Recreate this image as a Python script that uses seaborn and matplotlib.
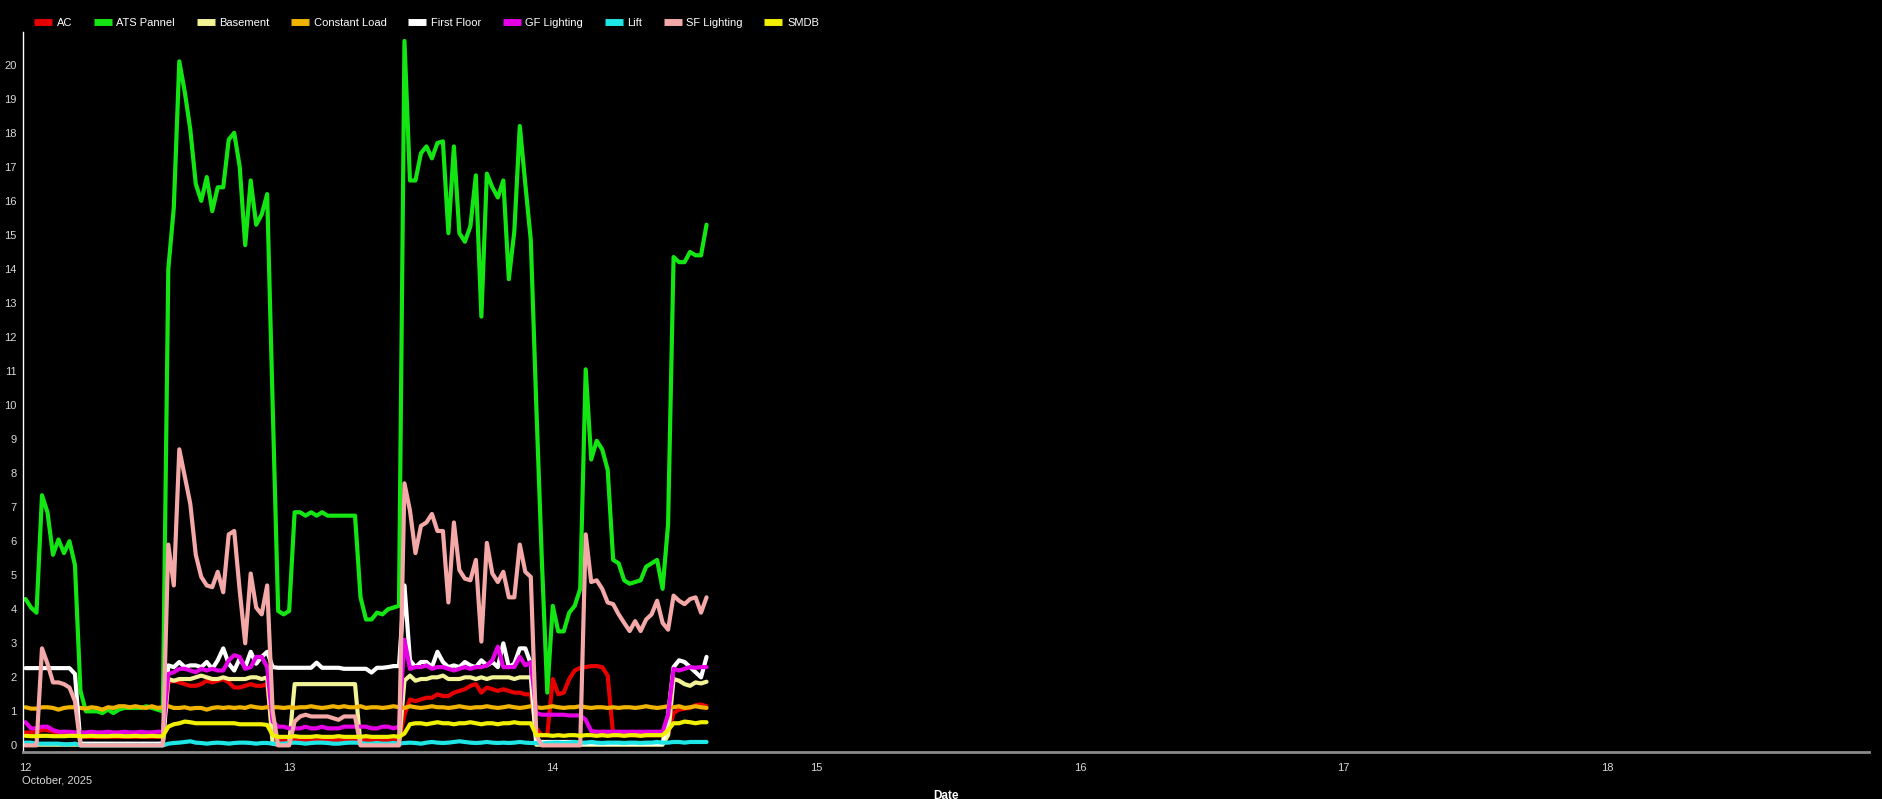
import pandas as pd
import matplotlib.pyplot as plt
import matplotlib.dates as mdates
from matplotlib.ticker import MultipleLocator
import seaborn as sns

## Data: half-hourly readings, Oct 12 00:00 -> Oct 14 14:00
times = pd.date_range("2025-10-12 00:00", periods=125, freq="30min")

ac = [0.38, 0.38, 0.4, 0.45, 0.45, 0.4, 0.38, 0.38, 0.38, 0.38,
      0.25, 0.25, 0.25, 0.25, 0.25, 0.25, 0.25, 0.25, 0.25, 0.25, 0.25, 0.25, 0.25, 0.25, 0.25, 0.25,
      1.85, 1.9, 1.85, 1.8, 1.75, 1.75, 1.8, 1.9, 1.85, 1.9, 1.95, 1.85, 1.7, 1.7, 1.75, 1.8, 1.75, 1.75, 1.8, 0.3,
      0.15, 0.15, 0.15, 0.15, 0.15, 0.15, 0.15, 0.15, 0.15, 0.15, 0.15, 0.15, 0.15, 0.15, 0.15, 0.15, 0.15, 0.15,
      0.15, 0.15, 0.15, 0.15, 0.15,
      0.9, 1.35, 1.3, 1.35, 1.4, 1.4, 1.5, 1.45, 1.45, 1.55, 1.6, 1.65, 1.75, 1.8, 1.55, 1.7, 1.65, 1.6, 1.65, 1.6,
      1.55, 1.55, 1.5, 1.5,
      0.5, 0.3, 0.3, 1.95, 1.5, 1.55, 1.95, 2.2, 2.28, 2.3, 2.33, 2.33, 2.3, 2.05, 0.3,
      0.3, 0.3, 0.3, 0.3, 0.3, 0.3, 0.3, 0.3, 0.3,
      0.35, 0.95, 1.05, 1.08, 1.1, 1.18, 1.2, 1.15]

ats = [4.3, 4.05, 3.9, 7.35, 6.85, 5.6, 6.05, 5.65, 6.0, 5.3,
       1.6, 1.0, 1.0, 1.0, 0.95, 1.05, 0.95, 1.05, 1.1, 1.1, 1.1, 1.1, 1.15, 1.1, 1.05, 1.0,
       14.0, 15.8, 20.1, 19.2, 18.1, 16.5, 16.0, 16.7, 15.7, 16.4, 16.4, 17.8, 18.0, 17.0, 14.7, 16.6, 15.3, 15.6,
       16.2, 10.0,
       3.95, 3.85, 3.95, 6.85, 6.85, 6.75, 6.85, 6.75, 6.85, 6.75, 6.75, 6.75, 6.75, 6.75, 6.75, 4.35, 3.7, 3.7,
       3.9, 3.85, 4.0, 4.05, 4.1,
       20.7, 16.6, 16.6, 17.4, 17.6, 17.25, 17.7, 17.75, 15.05, 17.6, 15.05, 14.8, 15.25, 16.75, 12.6, 16.8, 16.4,
       16.1, 16.6, 13.7, 15.1, 18.2, 16.5, 14.85,
       10.0, 5.5, 1.55, 4.1, 3.35, 3.35, 3.9, 4.1, 4.6, 11.05, 8.4, 8.95, 8.7, 8.1, 5.45,
       5.35, 4.85, 4.75, 4.8, 4.85, 5.25, 5.35, 5.45, 4.6,
       6.5, 14.35, 14.2, 14.2, 14.5, 14.4, 14.4, 15.3]

basement = [0.02, 0.02, 0.02, 0.02, 0.02, 0.02, 0.02, 0.02, 0.02, 0.02,
            0.02, 0.02, 0.02, 0.02, 0.02, 0.02, 0.02, 0.02, 0.02, 0.02, 0.02, 0.02, 0.02, 0.02, 0.02, 0.02,
            1.95, 1.9, 1.95, 1.95, 1.95, 2.0, 2.05, 2.0, 1.95, 1.95, 2.0, 1.95, 1.95, 1.95, 1.95, 2.0, 2.0, 1.95,
            2.0, 0.05,
            0.02, 0.02, 0.02, 1.8, 1.8, 1.8, 1.8, 1.8, 1.8, 1.8, 1.8, 1.8, 1.8, 1.8, 1.8, 0.02, 0.02, 0.02,
            0.02, 0.02, 0.02, 0.02, 0.02,
            1.9, 2.05, 1.9, 1.95, 1.95, 2.0, 2.0, 2.05, 1.95, 1.95, 1.95, 2.0, 2.0, 1.95, 2.0, 1.95, 2.0, 2.0,
            2.0, 2.0, 1.95, 2.0, 2.0, 2.0,
            0.02, 0.02, 0.02, 0.02, 0.02, 0.02, 0.02, 0.02, 0.02, 0.02, 0.02, 0.02, 0.02, 0.02, 0.02,
            0.02, 0.02, 0.02, 0.02, 0.02, 0.02, 0.02, 0.02, 0.02,
            0.3, 1.95, 1.9, 1.8, 1.75, 1.85, 1.82, 1.87]

constant_load = [1.12, 1.08, 1.08, 1.12, 1.12, 1.1, 1.05, 1.1, 1.12, 1.12,
                 1.1, 1.08, 1.12, 1.1, 1.05, 1.12, 1.1, 1.15, 1.15, 1.12, 1.15, 1.12, 1.1, 1.15, 1.1, 1.12,
                 1.15, 1.1, 1.1, 1.12, 1.08, 1.1, 1.1, 1.05, 1.1, 1.12, 1.1, 1.12, 1.1, 1.12, 1.1, 1.15, 1.12,
                 1.1, 1.12, 1.12,
                 1.12, 1.1, 1.12, 1.1, 1.12, 1.12, 1.15, 1.12, 1.1, 1.12, 1.15, 1.12, 1.15, 1.12, 1.12, 1.15,
                 1.1, 1.12, 1.12, 1.1, 1.12, 1.15, 1.12,
                 1.1, 1.15, 1.12, 1.1, 1.12, 1.15, 1.12, 1.12, 1.1, 1.12, 1.15, 1.12, 1.1, 1.12, 1.12, 1.15,
                 1.12, 1.1, 1.12, 1.15, 1.12, 1.1, 1.12, 1.15,
                 1.12, 1.1, 1.12, 1.15, 1.12, 1.1, 1.12, 1.12, 1.15, 1.12, 1.1, 1.12, 1.12, 1.1, 1.12,
                 1.1, 1.12, 1.12, 1.1, 1.12, 1.15, 1.12, 1.1, 1.12,
                 1.15, 1.12, 1.15, 1.1, 1.12, 1.15, 1.12, 1.1]

first_floor = [2.27, 2.27, 2.27, 2.27, 2.27, 2.27, 2.27, 2.27, 2.27, 2.1,
               0.05, 0.05, 0.05, 0.05, 0.05, 0.05, 0.05, 0.05, 0.05, 0.05, 0.05, 0.05, 0.05, 0.05, 0.05, 0.05,
               2.35, 2.3, 2.45, 2.3, 2.35, 2.35, 2.3, 2.45, 2.25, 2.5, 2.85, 2.4, 2.2, 2.55, 2.3, 2.75, 2.4,
               2.6, 2.75, 2.3,
               2.28, 2.28, 2.28, 2.28, 2.28, 2.28, 2.28, 2.43, 2.28, 2.28, 2.28, 2.28, 2.25, 2.25, 2.25, 2.25,
               2.25, 2.14, 2.28, 2.28, 2.3, 2.33, 2.33,
               4.7, 2.5, 2.3, 2.45, 2.45, 2.3, 2.75, 2.45, 2.3, 2.35, 2.3, 2.45, 2.35, 2.3, 2.5, 2.35, 2.45,
               2.3, 3.0, 2.3, 2.4, 2.85, 2.85, 2.4,
               0.1, 0.1, 0.1, 0.1, 0.1, 0.1, 0.1, 0.1, 0.05, 0.05, 0.05, 0.05, 0.05, 0.05, 0.05,
               0.05, 0.05, 0.05, 0.05, 0.05, 0.05, 0.05, 0.05, 0.05,
               0.9, 2.3, 2.5, 2.45, 2.3, 2.15, 2.0, 2.6]

gf_lighting = [0.68, 0.5, 0.5, 0.55, 0.55, 0.45, 0.4, 0.4, 0.4, 0.38,
               0.38, 0.38, 0.4, 0.38, 0.38, 0.4, 0.38, 0.38, 0.4, 0.38, 0.38, 0.4, 0.38, 0.38, 0.4, 0.4,
               2.1, 2.15, 2.25, 2.25, 2.2, 2.15, 2.25, 2.2, 2.25, 2.2, 2.2, 2.5, 2.65, 2.6, 2.25, 2.3, 2.6,
               2.6, 2.3, 0.7,
               0.55, 0.55, 0.5, 0.5, 0.5, 0.55, 0.5, 0.5, 0.55, 0.5, 0.5, 0.5, 0.55, 0.55, 0.55, 0.55, 0.55,
               0.5, 0.5, 0.55, 0.55, 0.5, 0.55,
               3.1, 2.25, 2.3, 2.3, 2.35, 2.25, 2.3, 2.3, 2.25, 2.2, 2.25, 2.3, 2.25, 2.3, 2.3, 2.35, 2.5,
               2.9, 2.3, 2.3, 2.3, 2.6, 2.35, 2.45,
               0.95, 0.9, 0.9, 0.9, 0.9, 0.9, 0.88, 0.88, 0.88, 0.75, 0.42, 0.4, 0.4, 0.4, 0.4,
               0.4, 0.4, 0.4, 0.4, 0.4, 0.4, 0.4, 0.4, 0.4,
               0.9, 2.25, 2.2, 2.25, 2.3, 2.28, 2.3, 2.3]

lift = [0.08, 0.08, 0.05, 0.05, 0.05, 0.05, 0.05, 0.03, 0.03, 0.05,
        0.0, 0.0, 0.0, 0.0, 0.0, 0.0, 0.0, 0.0, 0.0, 0.0, 0.0, 0.0, 0.0, 0.0, 0.0, 0.0,
        0.05, 0.07, 0.08, 0.1, 0.12, 0.08, 0.07, 0.05, 0.07, 0.08, 0.07, 0.05, 0.07, 0.08, 0.08, 0.07,
        0.05, 0.07, 0.07, 0.05,
        0.05, 0.05, 0.07, 0.08, 0.07, 0.05, 0.07, 0.08, 0.08, 0.07, 0.05, 0.05, 0.07, 0.08, 0.08, 0.07,
        0.05, 0.05, 0.07, 0.05, 0.05, 0.07, 0.05,
        0.07, 0.08, 0.07, 0.05, 0.08, 0.1, 0.08, 0.07, 0.08, 0.1, 0.12, 0.1, 0.08, 0.07, 0.08, 0.1,
        0.08, 0.07, 0.08, 0.07, 0.08, 0.1, 0.08, 0.07,
        0.07, 0.05, 0.07, 0.08, 0.08, 0.07, 0.08, 0.1, 0.08, 0.08, 0.1, 0.08, 0.07, 0.08, 0.08,
        0.08, 0.07, 0.08, 0.08, 0.07, 0.08, 0.08, 0.1, 0.08,
        0.08, 0.1, 0.1, 0.08, 0.1, 0.1, 0.1, 0.1]

sf_lighting = [0.0, 0.0, 0.0, 2.85, 2.4, 1.85, 1.85, 1.8, 1.7, 1.3,
               0.0, 0.0, 0.0, 0.0, 0.0, 0.0, 0.0, 0.0, 0.0, 0.0, 0.0, 0.0, 0.0, 0.0, 0.0, 0.0,
               5.9, 4.7, 8.7, 7.9, 7.1, 5.6, 4.95, 4.7, 4.65, 5.1, 4.5, 6.2, 6.3, 4.55, 3.0, 5.05, 4.05,
               3.85, 4.7, 1.0,
               0.0, 0.0, 0.0, 0.7, 0.85, 0.9, 0.85, 0.85, 0.85, 0.85, 0.8, 0.75, 0.85, 0.85, 0.85,
               0.0, 0.0, 0.0, 0.0, 0.0, 0.0, 0.0, 0.0,
               7.7, 6.9, 5.65, 6.45, 6.55, 6.8, 6.3, 6.3, 4.2, 6.55, 5.15, 4.9, 4.85, 5.45, 3.05, 5.95,
               5.05, 4.8, 5.1, 4.35, 4.35, 5.9, 5.1, 4.95,
               0.3, 0.0, 0.0, 0.0, 0.0, 0.0, 0.0, 0.0, 0.0, 6.2, 4.8, 4.85, 4.6, 4.2, 4.15,
               3.85, 3.6, 3.36, 3.65, 3.36, 3.7, 3.85, 4.25, 3.6,
               3.4, 4.4, 4.25, 4.15, 4.3, 4.35, 3.9, 4.35]

smdb = [0.28, 0.27, 0.27, 0.28, 0.28, 0.27, 0.27, 0.27, 0.28, 0.28,
        0.27, 0.27, 0.28, 0.27, 0.27, 0.27, 0.28, 0.28, 0.27, 0.27, 0.28, 0.27, 0.27, 0.28, 0.27, 0.27,
        0.55, 0.62, 0.65, 0.7, 0.68, 0.65, 0.65, 0.65, 0.65, 0.65, 0.65, 0.65, 0.65, 0.62, 0.62, 0.62,
        0.62, 0.62, 0.6, 0.3,
        0.25, 0.25, 0.25, 0.27, 0.25, 0.25, 0.25, 0.27, 0.25, 0.25, 0.25, 0.27, 0.25, 0.25, 0.25, 0.25,
        0.27, 0.25, 0.25, 0.25, 0.25, 0.27, 0.25,
        0.35, 0.62, 0.65, 0.65, 0.62, 0.65, 0.68, 0.65, 0.65, 0.62, 0.65, 0.65, 0.68, 0.65, 0.62, 0.65,
        0.65, 0.62, 0.65, 0.65, 0.68, 0.65, 0.65, 0.65,
        0.3, 0.3, 0.3, 0.28, 0.3, 0.28, 0.3, 0.3, 0.28, 0.3, 0.3, 0.28, 0.3, 0.28, 0.3,
        0.3, 0.28, 0.3, 0.3, 0.28, 0.3, 0.3, 0.3, 0.3,
        0.45, 0.65, 0.65, 0.7, 0.68, 0.65, 0.68, 0.68]

series_names = ["AC", "ATS Pannel", "Basement", "Constant Load", "First Floor",
                "GF Lighting", "Lift", "SF Lighting", "SMDB"]
series_colors = ["#e60000", "#14e614", "#f2f296", "#f0b400", "#ffffff",
                 "#e600e6", "#1ee6e6", "#f4a8a8", "#f0f000"]

df = pd.DataFrame({"Date": times, "AC": ac, "ATS Pannel": ats, "Basement": basement,
                   "Constant Load": constant_load, "First Floor": first_floor,
                   "GF Lighting": gf_lighting, "Lift": lift, "SF Lighting": sf_lighting,
                   "SMDB": smdb})
long_df = df.melt(id_vars="Date", var_name="Series", value_name="Value")

## Plot
sns.set_style("dark")
plt.rcParams["font.family"] = ["Liberation Sans", "DejaVu Sans"]

fig = plt.figure(figsize=(18.82, 7.99), dpi=100, facecolor="black")
ax = fig.add_axes([0.0121, 0.0586, 0.9810, 0.9008], facecolor="black")

sns.lineplot(data=long_df, x="Date", y="Value", hue="Series", hue_order=series_names,
             palette=dict(zip(series_names, series_colors)), estimator=None,
             linewidth=3, ax=ax)

ax.set_xlim(times[0] - pd.Timedelta(minutes=15), pd.Timestamp("2025-10-18 23:50"))
ax.set_ylim(-0.2, 20.95)
ax.yaxis.set_major_locator(MultipleLocator(1))
ax.xaxis.set_major_locator(mdates.DayLocator())
ax.xaxis.set_major_formatter(mdates.DateFormatter("%d"))
ax.tick_params(colors="#d9d9d9", labelsize=8, length=3, width=1)
ax.tick_params(axis="x", pad=5)
ax.tick_params(axis="y", pad=1.3)
ax.grid(False)

for s in ["top", "right"]:
    ax.spines[s].set_visible(False)
ax.spines["left"].set_color("white")
ax.spines["left"].set_linewidth(1)
ax.spines["bottom"].set_color("#8a8a8a")
ax.spines["bottom"].set_linewidth(2)

ax.set_ylabel("")
ax.set_xlabel("Date", color="white", fontsize=8.5, fontweight="bold")
ax.xaxis.set_label_coords(0.5, -0.052)

ax.text(mdates.date2num(times[0]) - 0.013, -0.039, "October, 2025",
        transform=ax.get_xaxis_transform(), ha="left", va="center",
        color="#d9d9d9", fontsize=8)

sns.move_legend(ax, "center left", bbox_to_anchor=(0.0157, 1 - 22.5 / 799),
                bbox_transform=fig.transFigure, ncol=9, frameon=False, title=None,
                fontsize=8, handlelength=1.62, handletextpad=0.43, columnspacing=1.93,
                labelcolor="white", borderaxespad=0)
for h in ax.get_legend().legend_handles:
    h.set_linewidth(5)
    h.set_solid_capstyle("butt")

fig.savefig("out.png", dpi=100, facecolor="black")
